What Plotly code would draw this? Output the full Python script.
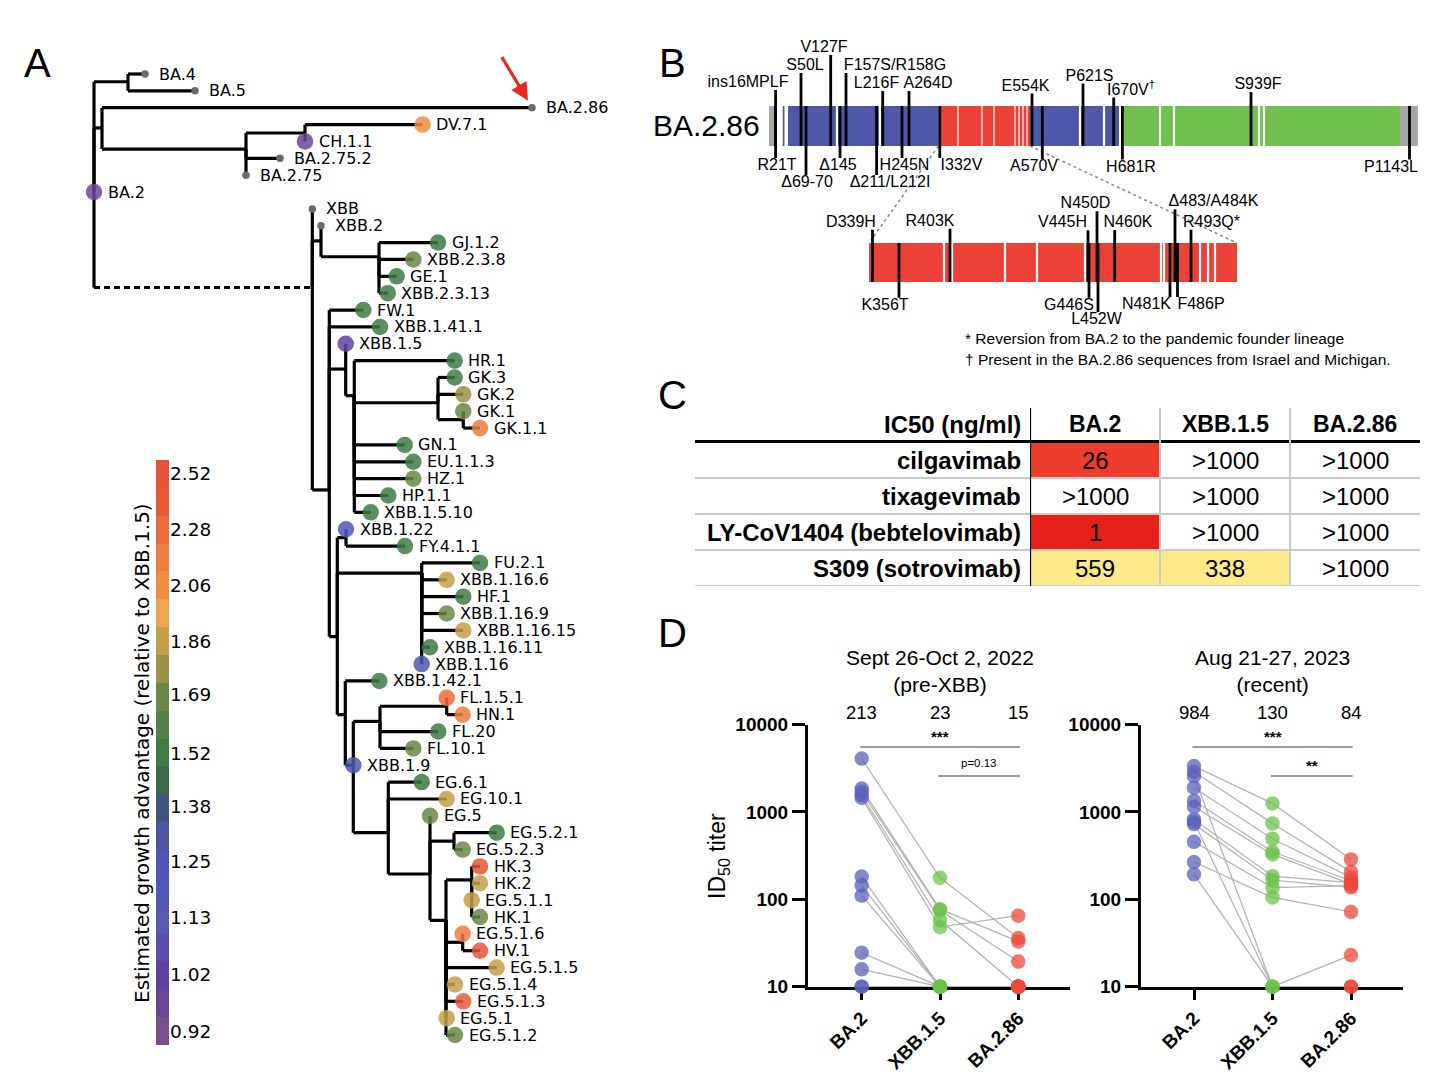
import numpy as np
import plotly.graph_objects as go

W, H = 1456, 1081
SANS = "Liberation Sans, Arial, Helvetica, sans-serif"
DJV = "DejaVu Sans, Verdana, sans-serif"


def ppx(x):
    return x / W


def ppy(y):
    return 1 - y / H


# ====================== A: phylogeny data ======================
tree_names = [
    "BA.2", "_a45", "BA.4", "BA.5", "_a286", "BA.2.86", "_a275", "_aCH", "DV.7.1", "CH.1.1",
    "BA.2.75.2", "BA.2.75", "_xbb", "XBB", "_xbb2", "XBB.2", "_xbb23", "GJ.1.2", "XBB.2.3.8", "GE.1",
    "XBB.2.3.13", "_xbb1", "FW.1", "XBB.1.41.1", "_x15a", "XBB.1.5", "_x15b", "HR.1", "_gk", "GK.3",
    "GK.2", "_gk1", "GK.1", "GK.1.1", "GN.1", "EU.1.1.3", "HZ.1", "HP.1.1", "XBB.1.5.10", "_nb",
    "_x122", "XBB.1.22", "FY.4.1.1", "_x116", "FU.2.1", "XBB.1.16.6", "HF.1", "XBB.1.16.9", "XBB.1.16.15", "XBB.1.16.11",
    "XBB.1.16", "_nc", "XBB.1.42.1", "_x19", "XBB.1.9", "_fl", "_fl15", "FL.1.5.1", "HN.1", "FL.20",
    "FL.10.1", "_eg", "EG.6.1", "EG.10.1", "_eg5", "EG.5", "_eg52", "EG.5.2.1", "EG.5.2.3", "_eg51",
    "_hk", "HK.3", "HK.2", "EG.5.1.1", "HK.1", "_eg516", "EG.5.1.6", "HV.1", "EG.5.1.5", "EG.5.1.4",
    "EG.5.1.3", "EG.5.1", "EG.5.1.2",
]
tree_parent = [
    None, "BA.2", "_a45", "_a45", "BA.2", "_a286", "_a286", "_a275", "_aCH", "_aCH",
    "_a275", "_a275", "BA.2", "_xbb", "_xbb", "_xbb2", "_xbb2", "_xbb23", "_xbb23", "_xbb23",
    "_xbb23", "_xbb", "_xbb1", "_xbb1", "_xbb1", "_x15a", "_x15a", "_x15b", "_x15b", "_gk",
    "_gk", "_gk", "_gk1", "_gk1", "_x15b", "_x15b", "_x15b", "_x15b", "_x15b", "_xbb1",
    "_nb", "_x122", "_x122", "_nb", "_x116", "_x116", "_x116", "_x116", "_x116", "_x116",
    "_x116", "_nb", "_nc", "_nc", "_x19", "_x19", "_fl", "_fl15", "_fl15", "_fl",
    "_fl", "_x19", "_eg", "_eg", "_eg", "_eg5", "_eg5", "_eg52", "_eg52", "_eg5",
    "_eg51", "_hk", "_hk", "_hk", "_hk", "_eg51", "_eg516", "_eg516", "_eg51", "_eg51",
    "_eg51", "_eg51", "_eg51",
]
# divergence (diagram units)
tree_x = [
    94, 128, 145, 195, 102, 532, 246, 305, 422.6, 305,
    280, 246, 312.3, 312.3, 321, 321, 379, 438, 413.3, 396.7,
    387.7, 329.3, 363.3, 380, 345.7, 345.7, 354.3, 454.7, 438, 454.7,
    463.3, 463.3, 463.3, 480, 404.7, 413.3, 413.3, 388.3, 370.7, 337.3,
    346, 346, 405, 421.7, 480, 446.7, 463.3, 446.7, 463.3, 430,
    421.7, 345.3, 379.3, 353.3, 353.3, 380, 446.7, 446.7, 462.7, 438.3,
    413.3, 388.3, 421.7, 446.7, 430, 430, 454, 496.7, 462.7, 446,
    471.7, 480, 480, 471.7, 480, 462.7, 462.7, 480, 496.7, 455,
    463.3, 446.7, 455,
]
# display row (order in the tree)
tree_row = [
    7, 0.46, 0, 1, 3.2, 2, 4.45, 3.5, 3, 4,
    5, 6, 12.67, 8, 9.9, 9, 10.84, 10, 11, 12,
    13, 24.67, 14, 15, 17.5, 16, 19.08, 17, 19.5, 18,
    19, 20.5, 20, 21, 22, 23, 24, 25, 26, 33.37,
    27.5, 27, 28, 29.6, 29, 30, 31, 32, 33, 34,
    35, 38.0, 36, 41, 41, 38.4, 37.5, 37, 38, 39,
    40, 45.0, 42, 43, 47.45, 44, 45.5, 45, 46, 50.2,
    47.8, 47, 48, 49, 50, 51.5, 51, 52, 53, 54,
    55, 56, 57,
]
# estimated growth advantage relative to XBB.1.5 (None = not estimated)
tree_growth = [
    0.95, None, None, None, None, None, None, None, 2.06, 0.98,
    None, None, None, None, None, None, None, 1.52, 1.65, 1.52,
    1.52, None, 1.52, 1.52, None, 1.0, None, 1.55, None, 1.55,
    1.78, None, 1.69, 2.15, 1.55, 1.52, 1.69, 1.52, 1.52, None,
    None, 1.2, 1.52, None, 1.55, 1.86, 1.52, 1.65, 1.86, 1.55,
    1.22, None, 1.52, None, 1.22, None, None, 2.28, 2.15, 1.52,
    1.69, None, 1.52, 1.86, None, 1.69, None, 1.52, 1.69, None,
    None, 2.52, 1.9, 1.86, 1.69, None, 2.2, 2.52, 1.86, 1.9,
    2.4, 1.86, 1.69,
]
dashed_edges = ["_xbb"]  # branch drawn dashed (BA.2 -> XBB)
assert len(tree_names) == len(tree_parent) == len(tree_x) == len(tree_row) == len(tree_growth)

cbar_ticks = [0.92, 1.02, 1.13, 1.25, 1.38, 1.52, 1.69, 1.86, 2.06, 2.28, 2.52]
cbar_colors = [
    "#7a4f85", "#684896", "#5f42a0", "#5a4ca8", "#5858b0", "#5058b5", "#4f55b2",
    "#4e549e", "#41567a", "#3c6a48", "#3f7a45", "#538048", "#6a8748", "#9a9248",
    "#c49e48", "#eea552", "#ef8e40", "#ef7d40", "#ec6c3c", "#ea5a38", "#e8523a",
]
cbar_title = "Estimated growth advantage (relative to XBB.1.5)"

# ====================== B: spike diagram data ======================
dom_start = [769, 782.7, 788, 938.5, 1030, 1122, 1400]
dom_end = [776, 784.5, 938.5, 1030, 1119, 1400, 1418]
dom_kind = ["other", "NTD", "NTD", "RBD", "SD", "S2", "other"]
dom_color = {"other": "#a6a6a6", "NTD": "#4f58a8", "RBD": "#ec4136", "SD": "#4f58a8", "S2": "#72c050"}
main_gaps = [837, 880, 1080, 1104, 1160, 1174, 1259, 1264]
rbd_light = [958, 982, 994, 1015, 1019, 1023, 1027]
zoom_start, zoom_end = 869, 1237
zoom_gaps = [944, 952, 1005, 1037, 1085, 1161, 1164, 1200, 1208, 1215]

main_top_labels = ["ins16MPLF", "S50L", "V127F", "F157S/R158G", "L216F", "A264D", "E554K", "P621S",
                   "I670V<sup>†</sup>", "S939F"]
main_top_pos = [775.6, 801, 830.7, 846, 882.7, 909, 1032, 1083, 1113.7, 1251]
main_bot_labels = ["R21T", "Δ69-70", "Δ145", "Δ211/L212I", "H245N", "I332V", "A570V", "H681R", "P1143L"]
main_bot_pos = [775.6, 806, 840, 876.6, 902, 939.8, 1042.3, 1122.4, 1409.5]
rbd_top_labels = ["D339H", "R403K", "V445H", "N450D", "N460K", "Δ483/A484K", "R493Q*"]
rbd_top_pos = [872.5, 950, 1088, 1097, 1114.7, 1175, 1191]
rbd_bot_labels = ["K356T", "G446S", "L452W", "N481K", "F486P"]
rbd_bot_pos = [899, 1089, 1098, 1170, 1177.5]
footnotes = ["* Reversion from BA.2 to the pandemic founder lineage",
             "† Present in the BA.2.86 sequences from Israel and Michigan."]

# label placement (layout, not data)
main_top_lx = [748, 805, 824, 895, 876.5, 928, 1025.5, 1089.5, 1131, 1258]
main_top_ly = [83, 66, 48, 66, 84, 84, 86.5, 76.5, 90.5, 85]
main_bot_lx = [777, 807, 838, 890, 904.5, 961.5, 1034, 1131, 1391]
main_bot_ly = [166, 183, 166, 183, 166, 166, 167, 167.5, 167.5]
rbd_top_lx = [851, 930, 1062.5, 1085.5, 1128, 1213.5, 1211.5]
rbd_top_ly = [222.7, 221.7, 223.3, 204.3, 223, 202.3, 222.7]
rbd_bot_lx = [885, 1069, 1096.5, 1146.5, 1201]
rbd_bot_ly = [305.7, 305.7, 320, 305, 305]
MAIN_Y = (106, 146)
ZOOM_Y = (243, 282)

# ====================== C: IC50 table data ======================
mab_names = ["cilgavimab", "tixagevimab", "LY-CoV1404 (bebtelovimab)", "S309 (sotrovimab)"]
ic50_variants = ["BA.2", "XBB.1.5", "BA.2.86"]
ic50_ba2 = [26, None, 1, 559]       # None = >1000
ic50_xbb15 = [None, None, None, 338]
ic50_ba286 = [None, None, None, None]
ic50_header = "IC50 (ng/ml)"

# ====================== D: neutralization data ======================
d_variants = ["BA.2", "XBB.1.5", "BA.2.86"]
d1_title = "Sept 26-Oct 2, 2022<br>(pre-XBB)"
d1_ba2 = [4070, 1850, 1700, 1550, 1450, 182, 144, 110, 24.5, 15.8, 10, 10]
d1_xbb15 = [176, 77, 75, 58, 48, 10, 10, 10, 10, 10, 10, 10]
d1_ba286 = [36, 33, 19.4, 10, 65, 10, 10, 10, 10, 10, 10, 10]
d1_gmt = [213, 23, 15]
d1_sig = ["***", "p=0.13"]
d2_title = "Aug 21-27, 2023<br>(recent)"
d2_ba2 = [3340, 2877, 2570, 1890, 1340, 1145, 820, 771, 725, 455, 267, 193]
d2_xbb15 = [1250, 738, 10, 493, 350, 326, 184, 10, 166, 136, 105, 10]
d2_ba286 = [286, 206, 10, 178, 163, 149, 155, 23, 137, 143, 72, 10]
d2_gmt = [984, 130, 84]
d2_sig = ["***", "**"]
sig_pairs = [(0, 2), (1, 2)]
y_ticks = [10, 100, 1000, 10000]

fig = go.Figure()
ann = []
shapes = []


def note(**kw):
    kw.setdefault("showarrow", False)
    kw.setdefault("xanchor", "center")
    kw.setdefault("yanchor", "middle")
    ann.append(kw)


# ---------------- A: tree ----------------
idx = {n: i for i, n in enumerate(tree_names)}
lx, ly, dx, dy = [], [], [], []
for i, n in enumerate(tree_names):
    p = tree_parent[i]
    if p is None:
        continue
    j = idx[p]
    lx += [tree_x[j], tree_x[j], None]
    ly += [tree_row[j], tree_row[i], None]
    if n in dashed_edges:
        dx += [tree_x[j], tree_x[i], None]
        dy += [tree_row[i], tree_row[i], None]
    else:
        lx += [tree_x[j], tree_x[i], None]
        ly += [tree_row[i], tree_row[i], None]
fig.add_trace(go.Scatter(x=lx, y=ly, mode="lines", line=dict(color="black", width=3.2),
                         xaxis="x", yaxis="y", hoverinfo="skip"))
fig.add_trace(go.Scatter(x=dx, y=dy, mode="lines", line=dict(color="black", width=3, dash="6px,4px"),
                         xaxis="x", yaxis="y", hoverinfo="skip"))

lg = np.log(cbar_ticks)
nb = len(cbar_colors)
step = (lg[-1] - lg[0]) / (nb - 1)
cmin, cmax = lg[0] - step / 2, lg[-1] + step / 2
dcs = []
for k, c in enumerate(cbar_colors):
    dcs += [[k / nb, c], [(k + 1) / nb, c]]

leaf = [i for i, n in enumerate(tree_names) if not n.startswith("_")]
grey = [i for i in leaf if tree_growth[i] is None]
col = [i for i in leaf if tree_growth[i] is not None]
fig.add_trace(go.Scatter(x=[tree_x[i] for i in grey], y=[tree_row[i] for i in grey], mode="markers",
                         marker=dict(size=7.5, color="#6a6a6a"), xaxis="x", yaxis="y", hoverinfo="skip"))
fig.add_trace(go.Scatter(x=[tree_x[i] for i in col], y=[tree_row[i] for i in col], mode="markers",
                         marker=dict(size=16.5, color=np.log([tree_growth[i] for i in col]),
                                     colorscale=dcs, cmin=cmin, cmax=cmax, opacity=0.85,
                                     line=dict(width=0)),
                         xaxis="x", yaxis="y", hoverinfo="skip"))
for i in leaf:
    note(x=tree_x[i] + 11.5, y=tree_row[i], xref="x", yref="y", text=tree_names[i], xanchor="left",
         font=dict(family=DJV, size=16, color="black"))
b286 = idx["BA.2.86"]
ann.append(dict(x=tree_x[b286] - 4, y=tree_row[b286] - 0.42, xref="x", yref="y", text="",
                showarrow=True, ax=-27, ay=-45, arrowhead=2, arrowsize=1.1, arrowwidth=3.2,
                arrowcolor="#e8281e"))

# colour bar
fig.add_trace(go.Heatmap(x=[0], y=lg[0] + step * np.arange(nb),
                         z=[[v] for v in lg[0] + step * np.arange(nb)],
                         colorscale=dcs, zmin=cmin, zmax=cmax, showscale=False,
                         xaxis="x2", yaxis="y2", hoverinfo="skip"))
note(x=ppx(142), y=ppy(753), xref="paper", yref="paper", text=cbar_title, textangle=-90,
     font=dict(family=DJV, size=20, color="black"))

# ---------------- B: spike ----------------
for s, e, k in zip(dom_start, dom_end, dom_kind):
    shapes.append(dict(type="rect", xref="x3", yref="y3", x0=s, x1=e, y0=MAIN_Y[0], y1=MAIN_Y[1],
                       fillcolor=dom_color[k], line=dict(width=0), layer="below"))
shapes.append(dict(type="rect", xref="x3", yref="y3", x0=zoom_start, x1=zoom_end, y0=ZOOM_Y[0], y1=ZOOM_Y[1],
                   fillcolor=dom_color["RBD"], line=dict(width=0), layer="below"))
gx, gy = [], []
for g in main_gaps:
    gx += [g, g, None]
    gy += [MAIN_Y[0], MAIN_Y[1], None]
for g in zoom_gaps:
    gx += [g, g, None]
    gy += [ZOOM_Y[0], ZOOM_Y[1], None]
fig.add_trace(go.Scatter(x=gx, y=gy, mode="lines", line=dict(color="white", width=2.2),
                         xaxis="x3", yaxis="y3", hoverinfo="skip"))
rx, ry = [], []
for g in rbd_light:
    rx += [g, g, None]
    ry += [MAIN_Y[0], MAIN_Y[1], None]
fig.add_trace(go.Scatter(x=rx, y=ry, mode="lines", line=dict(color="#f8b0a8", width=2),
                         xaxis="x3", yaxis="y3", hoverinfo="skip"))
fig.add_trace(go.Scatter(x=[dom_start[3], zoom_start + 2, None, dom_end[3], zoom_end],
                         y=[MAIN_Y[1], ZOOM_Y[0] - 3, None, MAIN_Y[1], ZOOM_Y[0]],
                         mode="lines", line=dict(color="#8c8c8c", width=1.6, dash="dot"),
                         xaxis="x3", yaxis="y3", hoverinfo="skip"))
mx, my = [], []
for p_, yl in zip(main_top_pos, main_top_ly):
    mx += [p_, p_, None]
    my += [yl + 7, MAIN_Y[1], None]
for p_, yl in zip(main_bot_pos, main_bot_ly):
    mx += [p_, p_, None]
    my += [MAIN_Y[0], yl - 8, None]
for p_, yl in zip(rbd_top_pos, rbd_top_ly):
    mx += [p_, p_, None]
    my += [yl + 7, ZOOM_Y[1], None]
for p_, yl in zip(rbd_bot_pos, rbd_bot_ly):
    mx += [p_, p_, None]
    my += [ZOOM_Y[0], yl - 8, None]
fig.add_trace(go.Scatter(x=mx, y=my, mode="lines", line=dict(color="black", width=2.8),
                         xaxis="x3", yaxis="y3", hoverinfo="skip"))
fig.add_trace(go.Scatter(x=main_top_lx + main_bot_lx + rbd_top_lx + rbd_bot_lx,
                         y=main_top_ly + main_bot_ly + rbd_top_ly + rbd_bot_ly,
                         text=main_top_labels + main_bot_labels + rbd_top_labels + rbd_bot_labels,
                         mode="text", textposition="middle center",
                         textfont=dict(family=SANS, size=16, color="black"),
                         xaxis="x3", yaxis="y3", hoverinfo="skip"))
note(x=762, y=126, xref="x3", yref="y3", text="BA.2.86", xanchor="right",
     font=dict(family=SANS, size=30, color="black"))
for k, t in enumerate(footnotes):
    note(x=963, y=339 + 21 * k, xref="x3", yref="y3", text=t, xanchor="left",
         font=dict(family=SANS, size=15.5, color="black"))

# ---------------- C: table ----------------
ic50_cols = [ic50_ba2, ic50_xbb15, ic50_ba286]
z = [[(np.log10(ic50_cols[c][r]) if ic50_cols[c][r] is not None else None) for c in range(3)]
     for r in range(len(mab_names))]
tbl_cs = [[0, "#e6211c"], [0.47, "#ef3c2c"], [0.62, "#f6b060"], [0.78, "#fbe98a"], [1, "#fbe98a"]]
fig.add_trace(go.Heatmap(x=[0, 1, 2], y=list(range(len(mab_names))), z=z, colorscale=tbl_cs,
                         zmin=0, zmax=3, showscale=False, xaxis="x4", yaxis="y4", hoverinfo="skip"))
for r, name in enumerate(mab_names):
    note(x=ppx(1023), y=r, xref="paper", yref="y4", text="<b>%s</b>" % name, xanchor="right",
         font=dict(family=SANS, size=24, color="black"))
    for c in range(3):
        v = ic50_cols[c][r]
        note(x=c, y=r, xref="x4", yref="y4", text=(">1000" if v is None else str(v)),
             font=dict(family=SANS, size=24, color="black"))
note(x=ppx(1023), y=ppy(424), xref="paper", yref="paper", text="<b>%s</b>" % ic50_header,
     xanchor="right", font=dict(family=SANS, size=24, color="black"))
for c, v in enumerate(ic50_variants):
    note(x=c, y=ppy(424), xref="x4", yref="paper", text="<b>%s</b>" % v,
         font=dict(family=SANS, size=23, color="black"))
shapes.append(dict(type="line", xref="paper", yref="paper", x0=ppx(695), x1=ppx(1420), y0=ppy(441.5),
                   y1=ppy(441.5), line=dict(color="black", width=3.2)))
for r in range(len(mab_names)):
    shapes.append(dict(type="line", xref="paper", yref="y4", x0=ppx(695), x1=ppx(1420), y0=r + 0.5,
                       y1=r + 0.5, line=dict(color="#c9c9c9", width=2)))
for c in range(3):
    shapes.append(dict(type="line", xref="x4", yref="paper", x0=c - 0.5, x1=c - 0.5, y0=ppy(408),
                       y1=ppy(586), line=dict(color="black" if c == 0 else "#c9c9c9",
                                              width=2.2 if c == 0 else 2)))

# ---------------- D: neutralization ----------------
panels = [
    ("x5", "y5", d1_ba2, d1_xbb15, d1_ba286, d1_gmt, d1_sig, d1_title),
    ("x6", "y6", d2_ba2, d2_xbb15, d2_ba286, d2_gmt, d2_sig, d2_title),
]
pt_colors = ["#5b62bb", "#6cc24a", "#ee4a3a"]
for xa, ya, a, b, c3, gmt, sig, title in panels:
    sx, sy = [], []
    for v0, v1, v2 in zip(a, b, c3):
        sx += [0, 1, 2, None]
        sy += [v0, v1, v2, None]
    fig.add_trace(go.Scatter(x=sx, y=sy, mode="lines", line=dict(color="#b4b4b4", width=1.3),
                             xaxis=xa, yaxis=ya, hoverinfo="skip", cliponaxis=False))
    for k, vals in enumerate([a, b, c3]):
        fig.add_trace(go.Scatter(x=[k] * len(vals), y=vals, mode="markers",
                                 marker=dict(size=14.5, color=pt_colors[k], opacity=0.75, line=dict(width=0)),
                                 xaxis=xa, yaxis=ya, hoverinfo="skip", cliponaxis=False))
    for k, g in enumerate(gmt):
        note(x=k, y=ppy(712), xref=xa, yref="paper", text=str(g),
             font=dict(family=SANS, size=18.5, color="black"))
    note(x=1, y=ppy(670.5), xref=xa, yref="paper", text=title,
         font=dict(family=SANS, size=21, color="black"))
    for (i0, i1), s, yline in zip(sig_pairs, sig, [747, 776]):
        shapes.append(dict(type="line", xref=xa, yref="paper", x0=i0 - 0.02, x1=i1 + 0.02,
                           y0=ppy(yline), y1=ppy(yline), line=dict(color="#7a7a7a", width=1.6)))
        if s.startswith("p"):
            note(x=(i0 + i1) / 2, y=ppy(yline - 13), xref=xa, yref="paper", text=s,
                 font=dict(family=SANS, size=11.5, color="black"))
        else:
            note(x=(i0 + i1) / 2, y=ppy(yline - 11), xref=xa, yref="paper", text="<b>%s</b>" % s,
                 font=dict(family=SANS, size=15, color="black"))
note(x=ppx(718), y=ppy(856), xref="paper", yref="paper", text="ID<sub>50</sub> titer",
     textangle=-90, font=dict(family=SANS, size=23, color="black"))

# panel letters
for t, xx, yy in [("A", 37, 63), ("B", 672, 63), ("C", 672, 395), ("D", 672, 633)]:
    note(x=ppx(xx), y=ppy(yy), xref="paper", yref="paper", text=t,
         font=dict(family=SANS, size=40, color="black"))

hidden = dict(visible=False, showgrid=False, zeroline=False, automargin=False)
row0 = -74 / 16.86
rowN = (H - 74) / 16.86
dy_axis = dict(type="log", range=[1, 4], domain=[ppy(986.7), ppy(724.5)], showline=True, linewidth=3,
               linecolor="black", ticks="outside", ticklen=13, tickwidth=3, tickcolor="black",
               tickvals=y_ticks, ticktext=[str(v) for v in y_ticks], showgrid=False, zeroline=False,
               automargin=False,
               tickfont=dict(family=SANS, size=19, color="black", weight="bold"), layer="below traces")
dx_axis = dict(tickvals=[0, 1, 2], ticktext=d_variants, tickangle=-45, showline=True, linewidth=3,
               linecolor="black", ticks="outside", ticklen=10, tickwidth=3, tickcolor="black",
               showgrid=False, zeroline=False, layer="below traces", automargin=False,
               tickfont=dict(family=SANS, size=19, color="black", weight="bold"))

fig.update_layout(
    template="none",
    font=dict(family=SANS, color="black"),
    width=W, height=H, autosize=False, margin=dict(l=0, r=0, t=0, b=0, pad=0, autoexpand=False),
    paper_bgcolor="white", plot_bgcolor="rgba(0,0,0,0)", showlegend=False,
    xaxis=dict(domain=[0, 620 / W], range=[0, 620], anchor="y", **hidden),
    yaxis=dict(domain=[0, 1], range=[rowN, row0], anchor="x", **hidden),
    xaxis2=dict(domain=[ppx(156), ppx(169)], range=[-0.5, 0.5], anchor="y2", **hidden),
    yaxis2=dict(domain=[ppy(1045), ppy(460)], range=[cmin, cmax], anchor="x2", side="right",
                tickvals=list(lg), ticktext=["%.2f" % t for t in cbar_ticks], ticks="",
                showgrid=False, zeroline=False, showline=False, automargin=False,
                tickfont=dict(family=DJV, size=18.5, color="black")),
    xaxis3=dict(domain=[640 / W, 1], range=[640, W], anchor="y3", **hidden),
    yaxis3=dict(domain=[ppy(380), ppy(30)], range=[380, 30], anchor="x3", **hidden),
    xaxis4=dict(domain=[ppx(1030), ppx(1420)], range=[-0.5, 2.5], anchor="y4", **hidden),
    yaxis4=dict(domain=[ppy(586), ppy(442)], range=[3.5, -0.5], anchor="x4", **hidden),
    xaxis5=dict(domain=[ppx(808), ppx(1070)], range=[-(861.7 - 808) / 78.3, (1070 - 861.7) / 78.3],
                anchor="y5", **dx_axis),
    yaxis5=dict(anchor="x5", **dy_axis),
    xaxis6=dict(domain=[ppx(1141), ppx(1403)], range=[-(1194 - 1141) / 78.5, (1403 - 1194) / 78.5],
                anchor="y6", **dx_axis),
    yaxis6=dict(anchor="x6", **dy_axis),
    annotations=ann, shapes=shapes,
)

fig.write_html("out.html", config={"displayModeBar": False},
               post_script="document.body.style.margin='0';document.body.style.padding='0';"
                           "document.documentElement.style.overflow='hidden';")
